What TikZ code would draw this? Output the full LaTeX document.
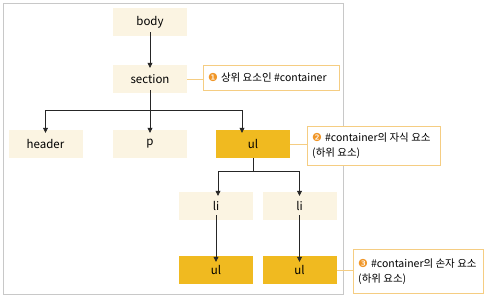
\documentclass[tikz,border=0pt]{standalone}
\usepackage{fontspec}
\setmainfont{Noto Sans CJK KR}
\newfontfamily\dingfont{DejaVu Sans}
\usetikzlibrary{arrows.meta}
\definecolor{beige}{RGB}{251,244,226}
\definecolor{gold}{RGB}{240,186,32}
\definecolor{calloutline}{RGB}{245,205,130}
\definecolor{numc}{RGB}{240,150,40}
\definecolor{framec}{RGB}{200,200,200}
\newcommand{\numb}[1]{{\dingfont\fontsize{11}{11}\selectfont\color{numc}#1}\hspace{3pt}}
\begin{document}
\begin{tikzpicture}[x=1pt,y=-1pt,
  light/.style={fill=beige,draw=none,minimum width=74pt,minimum height=28pt,inner sep=0pt,font=\fontsize{11.5}{13}\selectfont},
  dark/.style={fill=gold,draw=none,minimum width=74pt,minimum height=28pt,inner sep=0pt,font=\fontsize{11.5}{13}\selectfont},
  arr/.style={-{Triangle[length=5pt,width=5pt]},line width=0.6pt,black!85},
  ln/.style={line width=0.6pt,black!85},
  callout/.style={draw=calloutline,line width=0.8pt,fill=white,anchor=north west,inner sep=0pt},
  ctext/.style={anchor=west,align=left,inner xsep=0pt,inner ysep=0pt,font=\fontsize{10.5}{15}\selectfont},
  cline/.style={draw=calloutline,line width=0.8pt}]
\useasboundingbox (0,0) rectangle (494,298);
\draw[framec,line width=0.8pt] (3,3) rectangle (343,294);
% nodes
\node[light] (body) at (150,22) {body};
\node[light] (section) at (150,79) {section};
\node[light] (header) at (45.5,144) {header};
\node[light] (p) at (150,144) {p};
\node[dark] (ul) at (253,144) {ul};
\node[light] (li1) at (216,206) {li};
\node[light] (li2) at (299.5,206) {li};
\node[dark] (ul1) at (216,270) {ul};
\node[dark] (ul2) at (299.5,270) {ul};
% connectors
\coordinate (b1) at (150,110);
\coordinate (b2) at (253,171);
\draw[arr] ([yshift=4pt]body.south) -- ([yshift=-3pt]section.north);
\draw[ln] ([yshift=3pt]section.south) -- (b1);
\draw[arr] (b1) -| ([yshift=-3pt]header.north);
\draw[arr] (b1) -- ([yshift=-3pt]p.north);
\draw[arr] (b1) -| ([xshift=-11pt,yshift=-3pt]ul.north);
\draw[ln] (ul.south) -- (b2);
\draw[arr] (b2) -| ([xshift=2pt,yshift=-4pt]li1.north);
\draw[arr] (b2) -| ([yshift=-4pt]li2.north);
\draw[arr] ([yshift=5pt]li1.south) -- ([yshift=-6pt]ul1.north);
\draw[arr] ([yshift=5pt]li2.south) -- ([yshift=-6pt]ul2.north);
% callouts
\node[callout,minimum width=136pt,minimum height=25pt] (c1) at (203,65) {};
\node[callout,minimum width=133pt,minimum height=39pt] (c2) at (307,126) {};
\node[callout,minimum width=130pt,minimum height=44pt] (c3) at (353,249) {};
\node[ctext] (t1) at ([xshift=5pt]c1.west) {\numb{❶}상위 요소인 \#container};
\node[ctext] (t2) at ([xshift=5pt]c2.west) {\numb{❷}\#container의 자식 요소\\(하위 요소)};
\node[ctext] (t3) at ([xshift=5pt]c3.west) {\numb{❸}\#container의 손자 요소\\(하위 요소)};
\draw[cline] (section.east) -- (c1.west |- section.east);
\draw[cline] (ul.east) -- (c2.west |- ul.east);
\draw[cline] (ul2.east) -- (c3.west |- ul2.east);
\end{tikzpicture}
\end{document}
